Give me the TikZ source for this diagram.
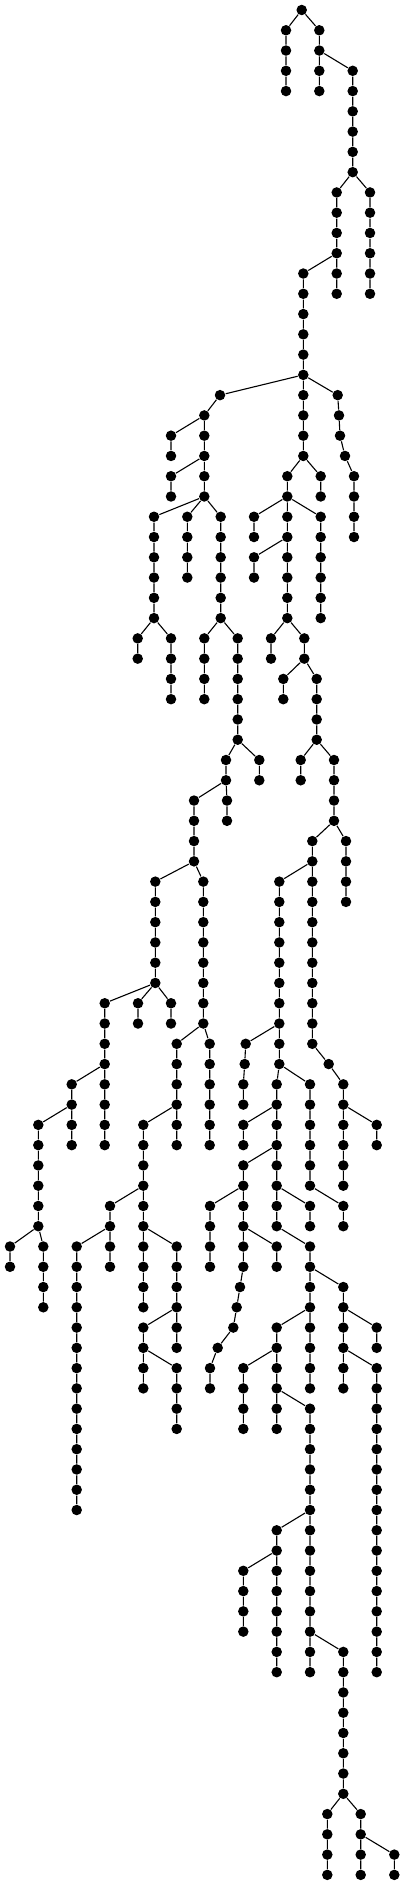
\documentclass[tikz,border=0pt]{standalone}
\begin{document}
\begin{tikzpicture}[x=1pt, y=-20.27pt, line width=1.1pt,
  tdot/.style={circle, fill, inner sep=0pt, minimum size=10.5pt}]
\useasboundingbox (0,-0.4933) rectangle (404,92.5);
\node[tdot] (r0) at (301.7,0){};
\node[tdot] (a1) at (286,1){};
\node[tdot] (a2) at (286,2){};
\node[tdot] (a3) at (286,3){};
\node[tdot] (a4) at (286,4){};
\node[tdot] (b1) at (319.3,1){};
\node[tdot] (b2) at (319.3,2){};
\node[tdot] (b3) at (319.3,3){};
\node[tdot] (b4) at (319.3,4){};
\node[tdot] (c3) at (352.7,3){};
\node[tdot] (c4) at (352.7,4){};
\node[tdot] (c5) at (352.7,5){};
\node[tdot] (c6) at (352.7,6){};
\node[tdot] (c7) at (352.7,7){};
\node[tdot] (c8) at (352.7,8){};
\node[tdot] (d9) at (370,9){};
\node[tdot] (d10) at (370,10){};
\node[tdot] (d11) at (370,11){};
\node[tdot] (d12) at (370,12){};
\node[tdot] (d13) at (370,13){};
\node[tdot] (d14) at (370,14){};
\node[tdot] (e9) at (336.7,9){};
\node[tdot] (e10) at (336.7,10){};
\node[tdot] (e11) at (336.7,11){};
\node[tdot] (e12) at (336.7,12){};
\node[tdot] (e13) at (336.7,13){};
\node[tdot] (e14) at (336.7,14){};
\node[tdot] (f13) at (303.3,13){};
\node[tdot] (f14) at (303.3,14){};
\node[tdot] (f15) at (303.3,15){};
\node[tdot] (f16) at (303.3,16){};
\node[tdot] (f17) at (303.3,17){};
\node[tdot] (f18) at (303.3,18){};
\node[tdot] (f19) at (303.3,19){};
\node[tdot] (f20) at (303.3,20){};
\node[tdot] (f21) at (303.3,21){};
\node[tdot] (f22) at (303.3,22){};
\node[tdot] (g19) at (220,19){};
\node[tdot] (g20) at (204.3,20){};
\node[tdot] (g21) at (204.3,21){};
\node[tdot] (g22) at (204.3,22){};
\node[tdot] (g23) at (204.3,23){};
\node[tdot] (g24) at (204.3,24){};
\node[tdot] (h21) at (171,21){};
\node[tdot] (h22) at (171,22){};
\node[tdot] (i23) at (171,23){};
\node[tdot] (i24) at (171,24){};
\node[tdot] (j25) at (154,25){};
\node[tdot] (j26) at (154,26){};
\node[tdot] (j27) at (154,27){};
\node[tdot] (j28) at (154,28){};
\node[tdot] (j29) at (154,29){};
\node[tdot] (j30) at (154,30){};
\node[tdot] (k25) at (187.3,25){};
\node[tdot] (k26) at (187.3,26){};
\node[tdot] (k27) at (187.3,27){};
\node[tdot] (k28) at (187.3,28){};
\node[tdot] (l25) at (220.7,25){};
\node[tdot] (l26) at (220.7,26){};
\node[tdot] (l27) at (220.7,27){};
\node[tdot] (l28) at (220.7,28){};
\node[tdot] (l29) at (220.7,29){};
\node[tdot] (l30) at (220.7,30){};
\node[tdot] (m19) at (337.7,19){};
\node[tdot] (m20) at (339,20){};
\node[tdot] (m21) at (340,21){};
\node[tdot] (m22) at (345,22){};
\node[tdot] (m23) at (354,23){};
\node[tdot] (m24) at (354,24){};
\node[tdot] (m25) at (354,25){};
\node[tdot] (m26) at (354,26){};
\node[tdot] (n23) at (287.3,23){};
\node[tdot] (n24) at (287.3,24){};
\node[tdot] (n25) at (287.3,25){};
\node[tdot] (n26) at (287.3,26){};
\node[tdot] (n27) at (287.3,27){};
\node[tdot] (n28) at (287.3,28){};
\node[tdot] (n29) at (287.3,29){};
\node[tdot] (n30) at (287.3,30){};
\node[tdot] (o23) at (320.7,23){};
\node[tdot] (o24) at (320.7,24){};
\node[tdot] (p25) at (254,25){};
\node[tdot] (p26) at (254,26){};
\node[tdot] (q25) at (320.7,25){};
\node[tdot] (q26) at (320.7,26){};
\node[tdot] (q27) at (320.7,27){};
\node[tdot] (q28) at (320.7,28){};
\node[tdot] (q29) at (320.7,29){};
\node[tdot] (q30) at (320.7,30){};
\node[tdot] (s27) at (254,27){};
\node[tdot] (s28) at (254,28){};
\node[tdot] (t31) at (137.7,31){};
\node[tdot] (t32) at (137.7,32){};
\node[tdot] (u31) at (171,31){};
\node[tdot] (u32) at (171,32){};
\node[tdot] (u33) at (171,33){};
\node[tdot] (u34) at (171,34){};
\node[tdot] (v31) at (204.3,31){};
\node[tdot] (v32) at (204.3,32){};
\node[tdot] (v33) at (204.3,33){};
\node[tdot] (v34) at (204.3,34){};
\node[tdot] (w31) at (237.7,31){};
\node[tdot] (w32) at (237.7,32){};
\node[tdot] (w33) at (237.7,33){};
\node[tdot] (w34) at (237.7,34){};
\node[tdot] (w35) at (237.7,35){};
\node[tdot] (w36) at (237.7,36){};
\node[tdot] (x31) at (271,31){};
\node[tdot] (x32) at (271,32){};
\node[tdot] (y31) at (304.3,31){};
\node[tdot] (y32) at (304.3,32){};
\node[tdot] (z33) at (283.3,33){};
\node[tdot] (z34) at (283.3,34){};
\node[tdot] (aa33) at (316.7,33){};
\node[tdot] (aa34) at (316.7,34){};
\node[tdot] (aa35) at (316.7,35){};
\node[tdot] (aa36) at (316.7,36){};
\node[tdot] (ab37) at (226,37){};
\node[tdot] (ab38) at (226,38){};
\node[tdot] (ac37) at (259.3,37){};
\node[tdot] (ac38) at (259.3,38){};
\node[tdot] (ad37) at (300.7,37){};
\node[tdot] (ad38) at (300.7,38){};
\node[tdot] (ae37) at (334,37){};
\node[tdot] (ae38) at (334,38){};
\node[tdot] (ae39) at (334,39){};
\node[tdot] (ae40) at (334,40){};
\node[tdot] (af39) at (194,39){};
\node[tdot] (af40) at (194,40){};
\node[tdot] (af41) at (194,41){};
\node[tdot] (af42) at (194,42){};
\node[tdot] (ag39) at (227,39){};
\node[tdot] (ag40) at (227,40){};
\node[tdot] (ah43) at (155.3,43){};
\node[tdot] (ah44) at (155.3,44){};
\node[tdot] (ah45) at (155.3,45){};
\node[tdot] (ah46) at (155.3,46){};
\node[tdot] (ah47) at (155.3,47){};
\node[tdot] (ah48) at (155.3,48){};
\node[tdot] (ai43) at (203.3,43){};
\node[tdot] (ai44) at (203.3,44){};
\node[tdot] (ai45) at (203.3,45){};
\node[tdot] (ai46) at (203.3,46){};
\node[tdot] (ai47) at (203.3,47){};
\node[tdot] (ai48) at (203.3,48){};
\node[tdot] (ai49) at (203.3,49){};
\node[tdot] (ai50) at (203.3,50){};
\node[tdot] (aj41) at (312.3,41){};
\node[tdot] (aj42) at (312.3,42){};
\node[tdot] (aj43) at (312.3,43){};
\node[tdot] (aj44) at (312.3,44){};
\node[tdot] (aj45) at (312.3,45){};
\node[tdot] (aj46) at (312.3,46){};
\node[tdot] (aj47) at (312.3,47){};
\node[tdot] (aj48) at (312.3,48){};
\node[tdot] (aj49) at (312.3,49){};
\node[tdot] (aj50) at (312.3,50){};
\node[tdot] (aj51) at (312.3,51){};
\node[tdot] (ak41) at (346,41){};
\node[tdot] (ak42) at (346,42){};
\node[tdot] (ak43) at (346,43){};
\node[tdot] (ak44) at (346,44){};
\node[tdot] (al43) at (279.3,43){};
\node[tdot] (al44) at (279.3,44){};
\node[tdot] (al45) at (279.3,45){};
\node[tdot] (al46) at (279.3,46){};
\node[tdot] (al47) at (279.3,47){};
\node[tdot] (al48) at (279.3,48){};
\node[tdot] (al49) at (279.3,49){};
\node[tdot] (al50) at (279.3,50){};
\node[tdot] (al51) at (279.3,51){};
\node[tdot] (al52) at (279.3,52){};
\node[tdot] (am49) at (104.7,49){};
\node[tdot] (am50) at (104.7,50){};
\node[tdot] (am51) at (104.7,51){};
\node[tdot] (am52) at (104.7,52){};
\node[tdot] (am53) at (104.7,53){};
\node[tdot] (am54) at (104.7,54){};
\node[tdot] (am55) at (104.7,55){};
\node[tdot] (am56) at (104.7,56){};
\node[tdot] (an49) at (138,49){};
\node[tdot] (an50) at (138,50){};
\node[tdot] (ao49) at (171,49){};
\node[tdot] (ao50) at (171,50){};
\node[tdot] (ap51) at (176.7,51){};
\node[tdot] (ap52) at (176.7,52){};
\node[tdot] (ap53) at (176.7,53){};
\node[tdot] (ap54) at (176.7,54){};
\node[tdot] (ap55) at (176.7,55){};
\node[tdot] (ap56) at (176.7,56){};
\node[tdot] (aq51) at (209.7,51){};
\node[tdot] (aq52) at (209.7,52){};
\node[tdot] (aq53) at (209.7,53){};
\node[tdot] (aq54) at (209.7,54){};
\node[tdot] (aq55) at (209.7,55){};
\node[tdot] (aq56) at (209.7,56){};
\node[tdot] (ar51) at (245.7,51){};
\node[tdot] (ar52) at (244.7,52){};
\node[tdot] (ar53) at (243.3,53){};
\node[tdot] (ar54) at (243.3,54){};
\node[tdot] (cb52) at (328.7,52){};
\node[tdot] (cb53) at (343.3,53){};
\node[tdot] (cb54) at (343.3,54){};
\node[tdot] (cb55) at (343.3,55){};
\node[tdot] (cb56) at (343.3,56){};
\node[tdot] (cb57) at (343.3,57){};
\node[tdot] (cb58) at (343.3,58){};
\node[tdot] (au53) at (71.7,53){};
\node[tdot] (au54) at (71.7,54){};
\node[tdot] (au55) at (71.7,55){};
\node[tdot] (au56) at (71.7,56){};
\node[tdot] (av55) at (38.3,55){};
\node[tdot] (av56) at (38.3,56){};
\node[tdot] (av57) at (38.3,57){};
\node[tdot] (av58) at (38.3,58){};
\node[tdot] (av59) at (38.3,59){};
\node[tdot] (av60) at (38.3,60){};
\node[tdot] (aw61) at (10,61){};
\node[tdot] (aw62) at (10,62){};
\node[tdot] (ax61) at (43.3,61){};
\node[tdot] (ax62) at (43.3,62){};
\node[tdot] (ax63) at (43.3,63){};
\node[tdot] (ax64) at (43.3,64){};
\node[tdot] (ay55) at (143.3,55){};
\node[tdot] (ay56) at (143.3,56){};
\node[tdot] (ay57) at (143.3,57){};
\node[tdot] (ay58) at (143.3,58){};
\node[tdot] (ay59) at (143.3,59){};
\node[tdot] (ay60) at (143.3,60){};
\node[tdot] (ay61) at (143.3,61){};
\node[tdot] (ay62) at (143.3,62){};
\node[tdot] (ay63) at (143.3,63){};
\node[tdot] (ay64) at (143.3,64){};
\node[tdot] (az59) at (110,59){};
\node[tdot] (az60) at (110,60){};
\node[tdot] (az61) at (110,61){};
\node[tdot] (az62) at (110,62){};
\node[tdot] (ba61) at (76.7,61){};
\node[tdot] (ba62) at (76.7,62){};
\node[tdot] (ba63) at (76.7,63){};
\node[tdot] (ba64) at (76.7,64){};
\node[tdot] (ba65) at (76.7,65){};
\node[tdot] (ba66) at (76.7,66){};
\node[tdot] (ba67) at (76.7,67){};
\node[tdot] (ba68) at (76.7,68){};
\node[tdot] (ba69) at (76.7,69){};
\node[tdot] (ba70) at (76.7,70){};
\node[tdot] (ba71) at (76.7,71){};
\node[tdot] (ba72) at (76.7,72){};
\node[tdot] (ba73) at (76.7,73){};
\node[tdot] (ba74) at (76.7,74){};
\node[tdot] (bb61) at (176.7,61){};
\node[tdot] (bb62) at (176.7,62){};
\node[tdot] (bb63) at (176.7,63){};
\node[tdot] (bb64) at (176.7,64){};
\node[tdot] (bb65) at (176.7,65){};
\node[tdot] (bb66) at (176.7,66){};
\node[tdot] (bc65) at (143.3,65){};
\node[tdot] (bc66) at (143.3,66){};
\node[tdot] (bc67) at (143.3,67){};
\node[tdot] (bc68) at (143.3,68){};
\node[tdot] (bd67) at (176.7,67){};
\node[tdot] (bd68) at (176.7,68){};
\node[tdot] (bd69) at (176.7,69){};
\node[tdot] (bd70) at (176.7,70){};
\node[tdot] (be53) at (276.7,53){};
\node[tdot] (be54) at (276.7,54){};
\node[tdot] (be55) at (276.7,55){};
\node[tdot] (be56) at (276.7,56){};
\node[tdot] (be57) at (276.7,57){};
\node[tdot] (be58) at (276.7,58){};
\node[tdot] (be59) at (276.7,59){};
\node[tdot] (be60) at (276.7,60){};
\node[tdot] (bf55) at (243.3,55){};
\node[tdot] (bf56) at (243.3,56){};
\node[tdot] (bg57) at (243.3,57){};
\node[tdot] (bg58) at (243.3,58){};
\node[tdot] (bg59) at (243.3,59){};
\node[tdot] (bg60) at (243.3,60){};
\node[tdot] (bg61) at (243.3,61){};
\node[tdot] (bg62) at (243.3,62){};
\node[tdot] (bg63) at (240,63){};
\node[tdot] (bg64) at (236.7,64){};
\node[tdot] (bg65) at (233.3,65){};
\node[tdot] (bg66) at (217.7,66){};
\node[tdot] (bg67) at (210,67){};
\node[tdot] (bg68) at (210,68){};
\node[tdot] (bh59) at (210,59){};
\node[tdot] (bh60) at (210,60){};
\node[tdot] (bh61) at (210,61){};
\node[tdot] (bh62) at (210,62){};
\node[tdot] (bi61) at (276.7,61){};
\node[tdot] (bi62) at (276.7,62){};
\node[tdot] (bj59) at (310,59){};
\node[tdot] (bj60) at (310,60){};
\node[tdot] (bk61) at (310,61){};
\node[tdot] (bk62) at (310,62){};
\node[tdot] (bk63) at (310,63){};
\node[tdot] (bk64) at (310,64){};
\node[tdot] (bk65) at (310,65){};
\node[tdot] (bk66) at (310,66){};
\node[tdot] (bk67) at (310,67){};
\node[tdot] (bk68) at (310,68){};
\node[tdot] (bl65) at (276.7,65){};
\node[tdot] (bl66) at (276.7,66){};
\node[tdot] (bl67) at (276.7,67){};
\node[tdot] (bl68) at (276.7,68){};
\node[tdot] (bl69) at (276.7,69){};
\node[tdot] (bl70) at (276.7,70){};
\node[tdot] (bm67) at (243.3,67){};
\node[tdot] (bm68) at (243.3,68){};
\node[tdot] (bm69) at (243.3,69){};
\node[tdot] (bm70) at (243.3,70){};
\node[tdot] (bn69) at (310,69){};
\node[tdot] (bn70) at (310,70){};
\node[tdot] (bn71) at (310,71){};
\node[tdot] (bn72) at (310,72){};
\node[tdot] (bn73) at (310,73){};
\node[tdot] (bn74) at (310,74){};
\node[tdot] (bn75) at (310,75){};
\node[tdot] (bn76) at (310,76){};
\node[tdot] (bn77) at (310,77){};
\node[tdot] (bn78) at (310,78){};
\node[tdot] (bn79) at (310,79){};
\node[tdot] (bn80) at (310,80){};
\node[tdot] (bn81) at (310,81){};
\node[tdot] (bn82) at (310,82){};
\node[tdot] (bo75) at (276.7,75){};
\node[tdot] (bo76) at (276.7,76){};
\node[tdot] (bo77) at (276.7,77){};
\node[tdot] (bo78) at (276.7,78){};
\node[tdot] (bo79) at (276.7,79){};
\node[tdot] (bo80) at (276.7,80){};
\node[tdot] (bo81) at (276.7,81){};
\node[tdot] (bo82) at (276.7,82){};
\node[tdot] (bp77) at (243.3,77){};
\node[tdot] (bp78) at (243.3,78){};
\node[tdot] (bp79) at (243.3,79){};
\node[tdot] (bp80) at (243.3,80){};
\node[tdot] (bq81) at (343.3,81){};
\node[tdot] (bq82) at (343.3,82){};
\node[tdot] (bq83) at (343.3,83){};
\node[tdot] (bq84) at (343.3,84){};
\node[tdot] (bq85) at (343.3,85){};
\node[tdot] (bq86) at (343.3,86){};
\node[tdot] (bq87) at (343.3,87){};
\node[tdot] (bq88) at (343.3,88){};
\node[tdot] (br89) at (327.3,89){};
\node[tdot] (br90) at (327.3,90){};
\node[tdot] (br91) at (327.3,91){};
\node[tdot] (br92) at (327.3,92){};
\node[tdot] (bs89) at (360.7,89){};
\node[tdot] (bs90) at (360.7,90){};
\node[tdot] (bs91) at (360.7,91){};
\node[tdot] (bs92) at (360.7,92){};
\node[tdot] (bt91) at (394.3,91){};
\node[tdot] (bt92) at (394.3,92){};
\node[tdot] (bu63) at (343.3,63){};
\node[tdot] (bu64) at (343.3,64){};
\node[tdot] (bu65) at (343.3,65){};
\node[tdot] (bu66) at (343.3,66){};
\node[tdot] (bu67) at (343.3,67){};
\node[tdot] (bu68) at (343.3,68){};
\node[tdot] (bv65) at (376.7,65){};
\node[tdot] (bv66) at (376.7,66){};
\node[tdot] (bw67) at (376.7,67){};
\node[tdot] (bw68) at (376.7,68){};
\node[tdot] (bw69) at (376.7,69){};
\node[tdot] (bw70) at (376.7,70){};
\node[tdot] (bw71) at (376.7,71){};
\node[tdot] (bw72) at (376.7,72){};
\node[tdot] (bw73) at (376.7,73){};
\node[tdot] (bw74) at (376.7,74){};
\node[tdot] (bw75) at (376.7,75){};
\node[tdot] (bw76) at (376.7,76){};
\node[tdot] (bw77) at (376.7,77){};
\node[tdot] (bw78) at (376.7,78){};
\node[tdot] (bw79) at (376.7,79){};
\node[tdot] (bw80) at (376.7,80){};
\node[tdot] (bw81) at (376.7,81){};
\node[tdot] (bw82) at (376.7,82){};
\node[tdot] (bx59) at (343.3,59){};
\node[tdot] (bx60) at (343.3,60){};
\node[tdot] (by55) at (376.7,55){};
\node[tdot] (by56) at (376.7,56){};
\node[tdot] (ca53) at (310,53){};
\node[tdot] (ca54) at (310,54){};
\node[tdot] (ca55) at (310,55){};
\node[tdot] (ca56) at (310,56){};
\node[tdot] (ca57) at (310,57){};
\node[tdot] (ca58) at (310,58){};
\draw[](r0) -- (a1) -- (a2) -- (a3) -- (a4);
\draw[](r0) -- (b1) -- (b2) -- (b3) -- (b4);
\draw[](b2) -- (c3) -- (c4) -- (c5) -- (c6) -- (c7) -- (c8);
\draw[](c8) -- (d9) -- (d10) -- (d11) -- (d12) -- (d13) -- (d14);
\draw[](c8) -- (e9) -- (e10) -- (e11) -- (e12) -- (e13) -- (e14);
\draw[](e12) -- (f13) -- (f14) -- (f15) -- (f16) -- (f17) -- (f18) -- (f19) -- (f20) -- (f21) -- (f22);
\draw[](f18) -- (g19) -- (g20) -- (g21) -- (g22) -- (g23) -- (g24);
\draw[](g20) -- (h21) -- (h22);
\draw[](g22) -- (i23) -- (i24);
\draw[](g24) -- (j25) -- (j26) -- (j27) -- (j28) -- (j29) -- (j30);
\draw[](g24) -- (k25) -- (k26) -- (k27) -- (k28);
\draw[](g24) -- (l25) -- (l26) -- (l27) -- (l28) -- (l29) -- (l30);
\draw[](f18) -- (m19) -- (m20) -- (m21) -- (m22) -- (m23) -- (m24) -- (m25) -- (m26);
\draw[](f22) -- (n23) -- (n24) -- (n25) -- (n26) -- (n27) -- (n28) -- (n29) -- (n30);
\draw[](f22) -- (o23) -- (o24);
\draw[](n24) -- (p25) -- (p26);
\draw[](n24) -- (q25) -- (q26) -- (q27) -- (q28) -- (q29) -- (q30);
\draw[](n26) -- (s27) -- (s28);
\draw[](j30) -- (t31) -- (t32);
\draw[](j30) -- (u31) -- (u32) -- (u33) -- (u34);
\draw[](l30) -- (v31) -- (v32) -- (v33) -- (v34);
\draw[](l30) -- (w31) -- (w32) -- (w33) -- (w34) -- (w35) -- (w36);
\draw[](n30) -- (x31) -- (x32);
\draw[](n30) -- (y31) -- (y32);
\draw[](y32) -- (z33) -- (z34);
\draw[](y32) -- (aa33) -- (aa34) -- (aa35) -- (aa36);
\draw[](w36) -- (ab37) -- (ab38);
\draw[](w36) -- (ac37) -- (ac38);
\draw[](aa36) -- (ad37) -- (ad38);
\draw[](aa36) -- (ae37) -- (ae38) -- (ae39) -- (ae40);
\draw[](ab38) -- (af39) -- (af40) -- (af41) -- (af42);
\draw[](ab38) -- (ag39) -- (ag40);
\draw[](af42) -- (ah43) -- (ah44) -- (ah45) -- (ah46) -- (ah47) -- (ah48);
\draw[](af42) -- (ai43) -- (ai44) -- (ai45) -- (ai46) -- (ai47) -- (ai48) -- (ai49) -- (ai50);
\draw[](ae40) -- (aj41) -- (aj42) -- (aj43) -- (aj44) -- (aj45) -- (aj46) -- (aj47) -- (aj48) -- (aj49) -- (aj50) -- (aj51);
\draw[](ae40) -- (ak41) -- (ak42) -- (ak43) -- (ak44);
\draw[](aj42) -- (al43) -- (al44) -- (al45) -- (al46) -- (al47) -- (al48) -- (al49) -- (al50) -- (al51) -- (al52);
\draw[](ah48) -- (am49) -- (am50) -- (am51) -- (am52) -- (am53) -- (am54) -- (am55) -- (am56);
\draw[](ah48) -- (an49) -- (an50);
\draw[](ah48) -- (ao49) -- (ao50);
\draw[](ai50) -- (ap51) -- (ap52) -- (ap53) -- (ap54) -- (ap55) -- (ap56);
\draw[](ai50) -- (aq51) -- (aq52) -- (aq53) -- (aq54) -- (aq55) -- (aq56);
\draw[](al50) -- (ar51) -- (ar52) -- (ar53) -- (ar54);
\draw[](aj51) -- (cb52) -- (cb53) -- (cb54) -- (cb55) -- (cb56) -- (cb57) -- (cb58);
\draw[](am52) -- (au53) -- (au54) -- (au55) -- (au56);
\draw[](au54) -- (av55) -- (av56) -- (av57) -- (av58) -- (av59) -- (av60);
\draw[](av60) -- (aw61) -- (aw62);
\draw[](av60) -- (ax61) -- (ax62) -- (ax63) -- (ax64);
\draw[](ap54) -- (ay55) -- (ay56) -- (ay57) -- (ay58) -- (ay59) -- (ay60) -- (ay61) -- (ay62) -- (ay63) -- (ay64);
\draw[](ay58) -- (az59) -- (az60) -- (az61) -- (az62);
\draw[](az60) -- (ba61) -- (ba62) -- (ba63) -- (ba64) -- (ba65) -- (ba66) -- (ba67) -- (ba68) -- (ba69) -- (ba70) -- (ba71) -- (ba72) -- (ba73) -- (ba74);
\draw[](ay60) -- (bb61) -- (bb62) -- (bb63) -- (bb64) -- (bb65) -- (bb66);
\draw[](bb64) -- (bc65) -- (bc66) -- (bc67) -- (bc68);
\draw[](bc66) -- (bd67) -- (bd68) -- (bd69) -- (bd70);
\draw[](al52) -- (be53) -- (be54) -- (be55) -- (be56) -- (be57) -- (be58) -- (be59) -- (be60);
\draw[](be54) -- (bf55) -- (bf56);
\draw[](be56) -- (bg57) -- (bg58) -- (bg59) -- (bg60) -- (bg61) -- (bg62) -- (bg63) -- (bg64) -- (bg65) -- (bg66) -- (bg67) -- (bg68);
\draw[](bg58) -- (bh59) -- (bh60) -- (bh61) -- (bh62);
\draw[](bg60) -- (bi61) -- (bi62);
\draw[](be58) -- (bj59) -- (bj60);
\draw[](be60) -- (bk61) -- (bk62) -- (bk63) -- (bk64) -- (bk65) -- (bk66) -- (bk67) -- (bk68);
\draw[](bk64) -- (bl65) -- (bl66) -- (bl67) -- (bl68) -- (bl69) -- (bl70);
\draw[](bl66) -- (bm67) -- (bm68) -- (bm69) -- (bm70);
\draw[](bl68) -- (bn69) -- (bn70) -- (bn71) -- (bn72) -- (bn73) -- (bn74) -- (bn75) -- (bn76) -- (bn77) -- (bn78) -- (bn79) -- (bn80) -- (bn81) -- (bn82);
\draw[](bn74) -- (bo75) -- (bo76) -- (bo77) -- (bo78) -- (bo79) -- (bo80) -- (bo81) -- (bo82);
\draw[](bo76) -- (bp77) -- (bp78) -- (bp79) -- (bp80);
\draw[](bn80) -- (bq81) -- (bq82) -- (bq83) -- (bq84) -- (bq85) -- (bq86) -- (bq87) -- (bq88);
\draw[](bq88) -- (br89) -- (br90) -- (br91) -- (br92);
\draw[](bq88) -- (bs89) -- (bs90) -- (bs91) -- (bs92);
\draw[](bs90) -- (bt91) -- (bt92);
\draw[](bk62) -- (bu63) -- (bu64) -- (bu65) -- (bu66) -- (bu67) -- (bu68);
\draw[](bu64) -- (bv65) -- (bv66);
\draw[](bu66) -- (bw67) -- (bw68) -- (bw69) -- (bw70) -- (bw71) -- (bw72) -- (bw73) -- (bw74) -- (bw75) -- (bw76) -- (bw77) -- (bw78) -- (bw79) -- (bw80) -- (bw81) -- (bw82);
\draw[](ca58) -- (bx59) -- (bx60);
\draw[](cb54) -- (by55) -- (by56);
\draw[](al52) -- (ca53) -- (ca54) -- (ca55) -- (ca56) -- (ca57) -- (ca58);
\end{tikzpicture}
\end{document}
